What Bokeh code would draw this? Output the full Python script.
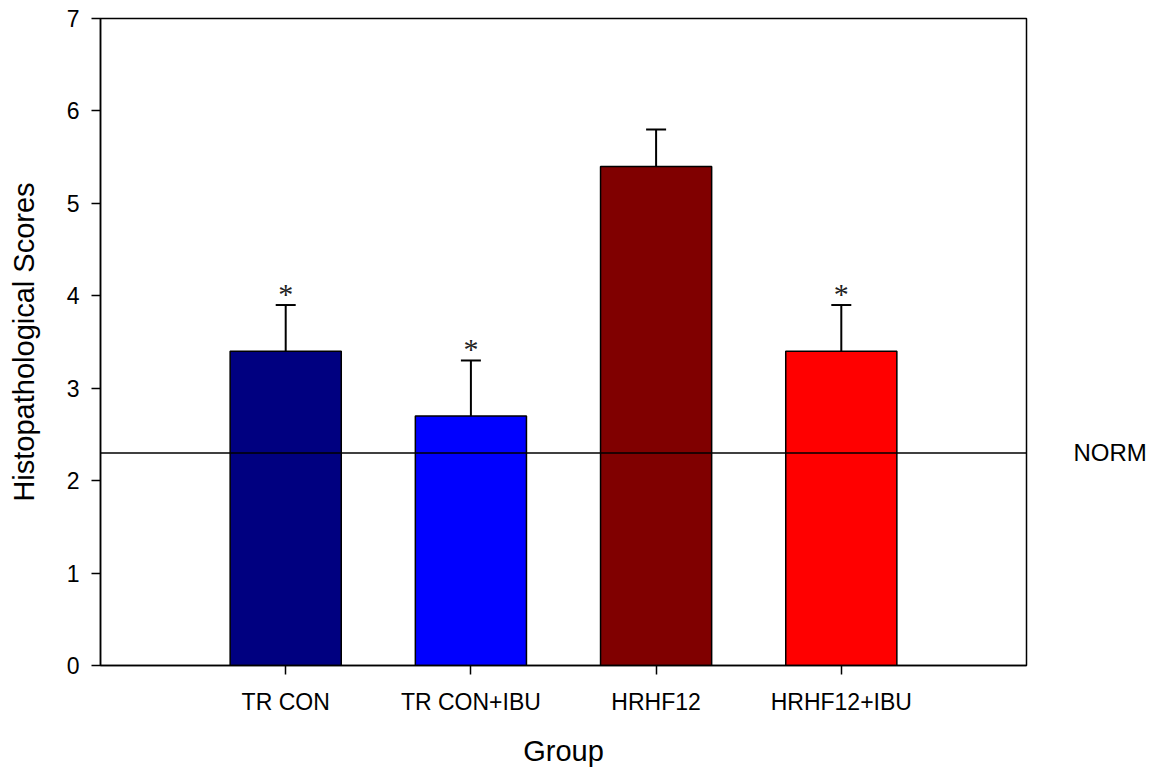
from bokeh.plotting import figure
from bokeh.models import Range1d, FixedTicker, ColumnDataSource, Whisker, TeeHead, Span, LinearAxis
from bokeh.core.properties import value
from bokeh.embed import file_html
from bokeh.resources import INLINE

groups = ["TR CON", "TR CON+IBU", "HRHF12", "HRHF12+IBU"]
positions = [1, 2, 3, 4]
means = [3.4, 2.7, 5.4, 3.4]
errors = [0.5, 0.6, 0.4, 0.5]
colors = ["#000080", "#0000FF", "#800000", "#FF0000"]
stars = ["*", "*", "", "*"]
norm_value = 2.3
y_ticks = [0, 1, 2, 3, 4, 5, 6, 7]

upper = [m + e for m, e in zip(means, errors)]
src = ColumnDataSource(dict(x=positions, top=means, upper=upper, color=colors, star=stars))

FONT = "Liberation Sans"

p = figure(width=1161, height=774, x_range=Range1d(0, 5), y_range=Range1d(0, 7),
           output_backend="svg", toolbar_location=None,
           min_border_left=100, min_border_right=135, min_border_top=18, min_border_bottom=109)

p.vbar(x="x", top="top", bottom=0, width=0.6, fill_color="color", line_color="black",
       line_width=1.5, source=src)

w = Whisker(base="x", lower="top", upper="upper", source=src, dimension="height",
            upper_head=TeeHead(size=20, line_width=2, line_color="black"), lower_head=None,
            line_width=2, line_color="black")
p.add_layout(w)

p.text(x="x", y="upper", text="star", source=src, text_align="center",
       text_baseline="middle", y_offset=-12, text_font=value("Liberation Serif"),
       text_font_size="30px", text_color="#222222")

p.add_layout(Span(location=norm_value, dimension="width", line_color="black", line_width=1.5))

# NORM label on the right side, as a right axis tick label
norm_axis = LinearAxis(ticker=FixedTicker(ticks=[norm_value]),
                       major_label_overrides={norm_value: "NORM"},
                       axis_line_color=None, major_tick_line_color=None,
                       minor_tick_line_color=None, major_label_standoff=41,
                       major_label_text_font=FONT, major_label_text_font_size="24px",
                       major_label_text_color="black")
p.add_layout(norm_axis, "right")

p.xgrid.visible = False
p.ygrid.visible = False
p.outline_line_color = "black"
p.outline_line_width = 1.5
p.background_fill_color = "white"
p.border_fill_color = "white"

p.xaxis[0].ticker = FixedTicker(ticks=positions)
p.xaxis[0].major_label_overrides = {pos: g for pos, g in zip(positions, groups)}
p.yaxis[0].ticker = FixedTicker(ticks=y_ticks)

for ax in (p.xaxis[0], p.yaxis[0]):
    ax.major_tick_in = 0
    ax.major_tick_out = 9
    ax.minor_tick_line_color = None
    ax.major_tick_line_color = "black"
    ax.major_tick_line_width = 1.5
    ax.axis_line_color = "black"
    ax.axis_line_width = 1.5
    ax.major_label_text_font = FONT
    ax.major_label_text_font_size = "23px"
    ax.major_label_text_color = "black"
    ax.axis_label_text_font = FONT
    ax.axis_label_text_font_size = "29px"
    ax.axis_label_text_font_style = "normal"
    ax.axis_label_text_color = "black"

p.xaxis[0].axis_label = "Group"
p.yaxis[0].axis_label = "Histopathological Scores"
p.xaxis[0].major_label_standoff = 14
p.yaxis[0].major_label_standoff = 12
p.xaxis[0].axis_label_standoff = 17
p.yaxis[0].axis_label_standoff = 24

open("out.html", "w").write(file_html(p, INLINE))
